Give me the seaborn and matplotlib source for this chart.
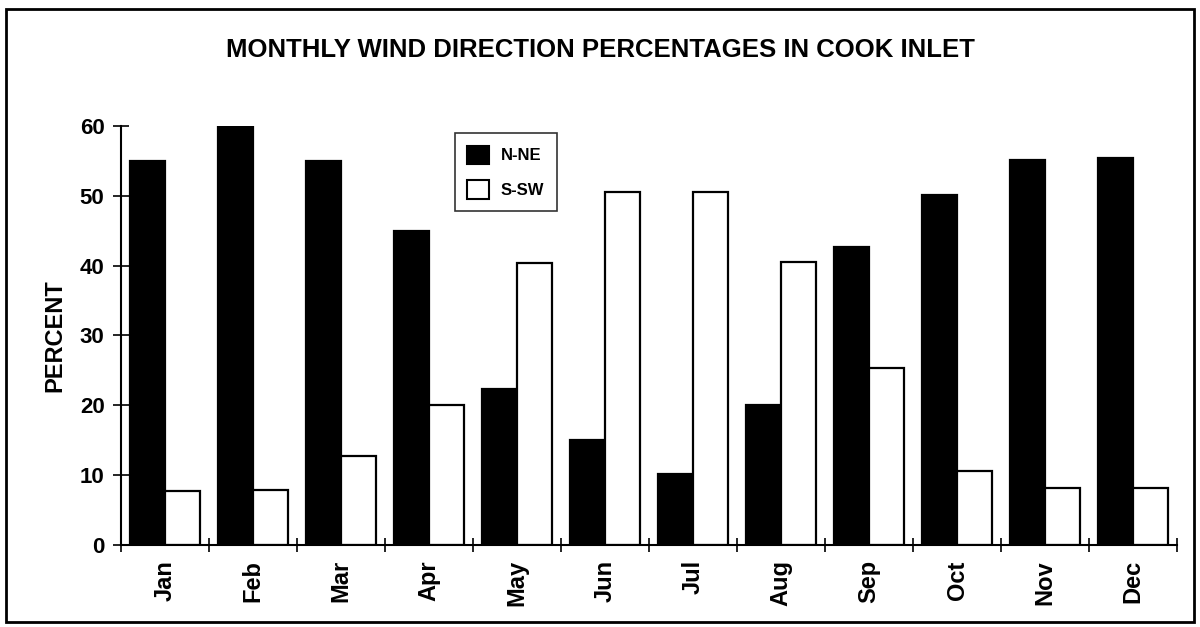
"""Monthly wind direction percentages in Cook Inlet, grouped bars."""
import matplotlib
matplotlib.use("Agg")
import matplotlib.pyplot as plt
from matplotlib.patches import Rectangle, Patch
from matplotlib.ticker import FixedLocator
import pandas as pd
import seaborn as sns

months = ["Jan", "Feb", "Mar", "Apr", "May", "Jun",
          "Jul", "Aug", "Sep", "Oct", "Nov", "Dec"]
n_ne = [55, 60, 55, 45, 22.3, 15, 10.2, 20, 42.7, 50.1, 55.2, 55.4]
s_sw = [7.7, 7.9, 12.7, 20, 40.4, 50.5, 50.5, 40.5, 25.3, 10.6, 8.2, 8.2]
yticks = [0, 10, 20, 30, 40, 50, 60]

sns.set_theme(style="white")
plt.rcParams["font.family"] = ["Liberation Sans", "DejaVu Sans"]
plt.rcParams["text.color"] = "black"
plt.rcParams["axes.labelcolor"] = "black"
plt.rcParams["xtick.color"] = "black"
plt.rcParams["ytick.color"] = "black"

df = pd.DataFrame({
    "month": months * 2,
    "pct": n_ne + s_sw,
    "dir": ["N-NE"] * len(months) + ["S-SW"] * len(months),
})

fig = plt.figure(figsize=(12, 6.27), dpi=100)
ax = fig.add_axes([0.101, 0.131, 0.880, 0.668])

sns.barplot(data=df, x="month", y="pct", hue="dir", order=months,
            palette={"N-NE": "black", "S-SW": "white"}, edgecolor="black",
            linewidth=1.6, width=0.8, ax=ax, legend=False)

ax.set_xlim(-0.5, len(months) - 0.5)
ax.set_ylim(0, 60)
ax.set_yticks(yticks)
ax.set_yticklabels([str(t) for t in yticks], fontsize=16, fontweight="bold")
ax.set_xticks(range(len(months)))
ax.set_xticklabels(months, rotation=90, fontsize=17, fontweight="bold")
ax.xaxis.set_minor_locator(FixedLocator([i - 0.5 for i in range(len(months) + 1)]))
ax.tick_params(axis="x", which="major", length=0, pad=11)
ax.tick_params(axis="x", which="minor", direction="inout", length=10,
               width=1.2, color="black", bottom=True)
ax.tick_params(axis="y", direction="inout", length=12, width=1.2,
               color="black", left=True, pad=6)
ax.set_xlabel("")
ax.set_ylabel("PERCENT", fontsize=17, fontweight="bold", labelpad=10)

for side in ["top", "right"]:
    ax.spines[side].set_visible(False)
for side in ["left", "bottom"]:
    ax.spines[side].set_color("black")
    ax.spines[side].set_linewidth(1.5)

handles = [Patch(facecolor="black", edgecolor="black", linewidth=1.5, label="N-NE"),
           Patch(facecolor="white", edgecolor="black", linewidth=1.5, label="S-SW")]
leg = ax.legend(handles=handles, loc="upper left", bbox_to_anchor=(0.316, 0.983),
                frameon=True, fancybox=False, edgecolor="black", fontsize=12,
                handlelength=1.3, handleheight=1.3, labelspacing=1.0,
                borderpad=0.75, handletextpad=0.7, borderaxespad=0)
leg.get_frame().set_linewidth(1.2)
for t in leg.get_texts():
    t.set_fontweight("bold")

fig.text(0.5, 0.92, "MONTHLY WIND DIRECTION PERCENTAGES IN COOK INLET",
         ha="center", va="center", fontsize=18.5, fontweight="bold")

fig.patches.append(Rectangle((0.005, 0.008), 0.99, 0.977, transform=fig.transFigure,
                             fill=False, edgecolor="black", linewidth=2))

fig.savefig("out.png", dpi=100)
plt.close(fig)
